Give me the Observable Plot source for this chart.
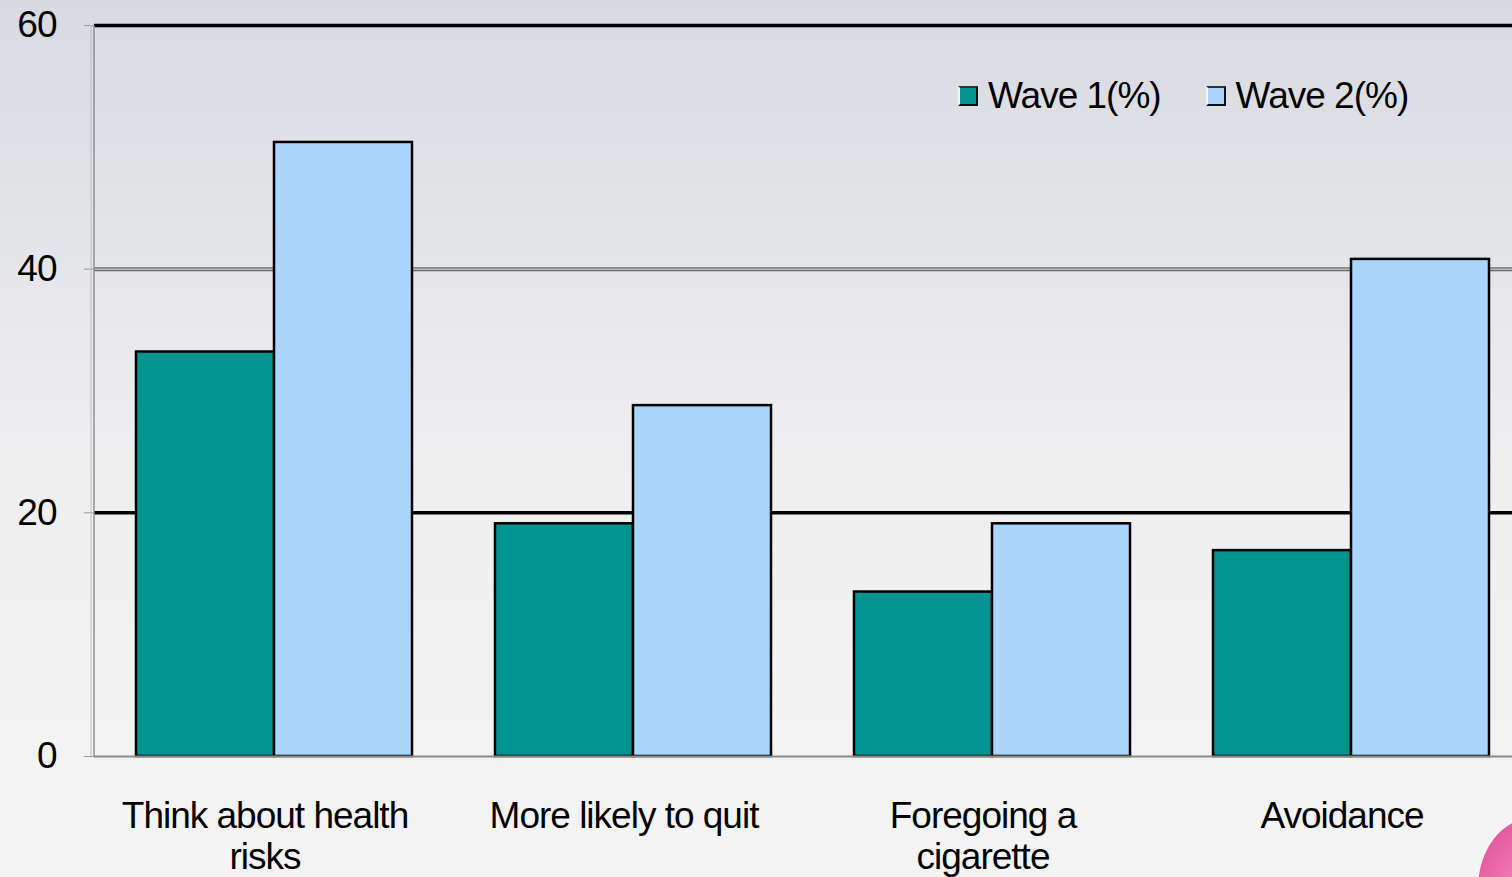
<!DOCTYPE html>
<html>
<head>
<meta charset="utf-8">
<script src="https://cdn.jsdelivr.net/npm/d3@7"></script>
<script src="https://cdn.jsdelivr.net/npm/@observablehq/plot@0.6"></script>
<style>
  html, body { margin: 0; padding: 0; width: 1512px; height: 877px; overflow: hidden; }
  body {
    position: relative;
    font-family: "Liberation Sans", Arial, sans-serif;
    background: linear-gradient(to bottom, #d9dae0 0%, #e3e4e8 25%, #eeeef0 50%, #f2f2f2 75%, #f4f4f4 100%);
  }
  #chart { position: absolute; left: 0; top: 0; }
  #chart svg text { letter-spacing: -1px; }
  #legend { position: absolute; left: 958px; top: 75px; display: flex; gap: 45px; font-size: 37px; letter-spacing: -1px; color: #000; }
  #legend .item { display: flex; align-items: center; }
  #legend .sw { width: 16px; height: 16px; border: 2px solid #111; border-left-color: #f8f8f8; border-top-color: #333; margin-right: 10px; }
  #blob { position: absolute; left: 1478px; top: 818px; width: 110px; height: 140px; border-radius: 50%;
          background: radial-gradient(circle at 70% 60%, #f7a6cf 0%, #e96aa9 60%, #d84a8f 100%); }
</style>
</head>
<body>
<div id="blob"></div>
<div id="chart"></div>
<div id="legend"></div>
<script>
const categories = ["Think about health\nrisks", "More likely to quit", "Foregoing a\ncigarette", "Avoidance"];
const seriesNames = ["Wave 1(%)", "Wave 2(%)"];
const wave1 = [33.2, 19.1, 13.5, 16.9];
const wave2 = [50.4, 28.8, 19.1, 40.8];
const yTicks = [0, 20, 40, 60];
const colors = ["#009490", "#aad5fd"];

const data = categories.flatMap((c, i) => [
  {category: c, series: seriesNames[0], value: wave1[i]},
  {category: c, series: seriesNames[1], value: wave2[i]}
]);

const chart = Plot.plot({
  width: 1530,
  height: 877,
  marginLeft: 93,
  marginRight: 0,
  marginTop: 25,
  marginBottom: 121,
  style: "background: transparent; max-width: none; overflow: visible; font-family: 'Liberation Sans', Arial, sans-serif; color: #000;",
  fx: {domain: categories, padding: 0, label: null},
  x: {domain: seriesNames, paddingInner: 0, paddingOuter: 0.3, axis: null},
  y: {domain: [0, 60]},
  color: {domain: seriesNames, range: colors},
  marks: [
    Plot.ruleY([60, 20], {stroke: "#000", strokeWidth: 3.5}),
    Plot.ruleY([40], {stroke: "#6a6a6a", strokeWidth: 4}),
    Plot.ruleY([40], {stroke: "#e8e8e8", strokeWidth: 1}),
    Plot.barY(data, {fx: "category", x: "series", y: "value", fill: "series", stroke: "#000", strokeWidth: 2.5}),
    Plot.ruleY([0], {stroke: "#8a8a8a", strokeWidth: 2}),
    Plot.axisY({ticks: yTicks, tickSize: 10, tickPadding: 28, fontSize: 37, stroke: "#999", fill: "#000", label: null, tickFormat: d => String(d)}),
    Plot.axisFx({anchor: "bottom", tickSize: 0, tickPadding: 42, dx: -9, fontSize: 37, lineHeight: 1.12, label: null, fill: "#000"})
  ]
});
document.getElementById("chart").appendChild(chart);

// vertical axis line (gray double line) using the y scale
const ys = chart.scale("y");
const svg = d3.select(chart);
svg.append("line").attr("x1", 91).attr("x2", 91).attr("y1", ys.apply(60)).attr("y2", ys.apply(0))
  .attr("stroke", "#bdbdbd").attr("stroke-width", 1);
svg.append("line").attr("x1", 94).attr("x2", 94).attr("y1", ys.apply(60)).attr("y2", ys.apply(0))
  .attr("stroke", "#8f8f8f").attr("stroke-width", 1.5);

// legend
const legend = d3.select("#legend");
seriesNames.forEach((s, i) => {
  const item = legend.append("div").attr("class", "item");
  item.append("div").attr("class", "sw").style("background", colors[i]);
  item.append("span").text(s);
});
</script>
</body>
</html>
